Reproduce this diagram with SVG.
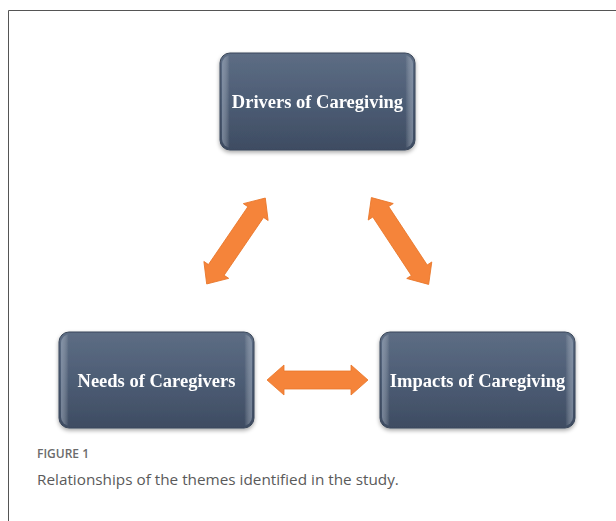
<svg xmlns="http://www.w3.org/2000/svg" width="616" height="521" viewBox="0 0 616 521">
<style>
.box{fill:url(#g);stroke:#3a475a;stroke-width:1}
.lab{font-family:"Liberation Serif",serif;font-weight:bold;font-size:18.5px;fill:#ffffff;text-anchor:middle}
.arr{fill:#f5843a;stroke:#e8762a;stroke-width:0.8}
</style>
<defs>
<linearGradient id="g" x1="0" y1="0" x2="0" y2="1">
<stop offset="0" stop-color="#5d6d84"/>
<stop offset="0.5" stop-color="#4d5d75"/>
<stop offset="1" stop-color="#3e4c62"/>
</linearGradient>
<linearGradient id="side" x1="0" y1="0" x2="1" y2="0">
<stop offset="0" stop-color="#a9b6c8" stop-opacity="0.5"/>
<stop offset="0.04" stop-color="#ffffff" stop-opacity="0"/>
<stop offset="0.96" stop-color="#ffffff" stop-opacity="0"/>
<stop offset="1" stop-color="#a9b6c8" stop-opacity="0.5"/>
</linearGradient>
<filter id="sh" x="-10%" y="-10%" width="120%" height="130%">
<feGaussianBlur in="SourceAlpha" stdDeviation="2"/>
<feOffset dy="2"/>
<feComponentTransfer><feFuncA type="linear" slope="0.35"/></feComponentTransfer>
<feMerge><feMergeNode/><feMergeNode in="SourceGraphic"/></feMerge>
</filter>
<path id="ad" d="M-52,0 L-35,-15 L-35,-9.5 L35,-9.5 L35,-15 L52,0 L35,15 L35,9.5 L-35,9.5 L-35,15 Z"/>
<path id="ah" d="M-50.5,0 L-33.5,-15 L-33.5,-9 L33.5,-9 L33.5,-15 L50.5,0 L33.5,15 L33.5,9 L-33.5,9 L-33.5,15 Z"/>
</defs>
<rect width="616" height="521" fill="#ffffff"/>
<path d="M8.5,521 L8.5,10.5 L616,10.5" fill="none" stroke="#555555" stroke-width="1"/>
<g id="connectors">
<use href="#ad" class="arr" transform="translate(236,241) rotate(-55.7)"/>
<use href="#ad" class="arr" transform="translate(400,241) rotate(56.6)"/>
<use href="#ah" class="arr" transform="translate(317.5,380)"/>
</g>
<g id="drivers" filter="url(#sh)">
<rect class="box" x="220" y="53" width="195" height="97" rx="10"/>
<rect x="222" y="55" width="191" height="93" rx="9" fill="url(#side)"/>
<text class="lab" x="317.5" y="108">Drivers of Caregiving</text>
</g>
<g id="needs" filter="url(#sh)">
<rect class="box" x="59" y="332" width="195" height="96" rx="10"/>
<rect x="61" y="334" width="191" height="92" rx="9" fill="url(#side)"/>
<text class="lab" x="156.5" y="387">Needs of Caregivers</text>
</g>
<g id="impacts" filter="url(#sh)">
<rect class="box" x="380" y="332" width="195" height="96" rx="10"/>
<rect x="382" y="334" width="191" height="92" rx="9" fill="url(#side)"/>
<text class="lab" x="477.5" y="387">Impacts of Caregiving</text>
</g>
<g id="caption">
<text x="37" y="458" font-family="'Open Sans',sans-serif" font-size="12" font-weight="600" fill="#6b6b6b">FIGURE 1</text>
<text x="37" y="485" font-family="'Open Sans',sans-serif" font-size="15.3" fill="#5a5a5a">Relationships of the themes identified in the study.</text>
</g>
</svg>
